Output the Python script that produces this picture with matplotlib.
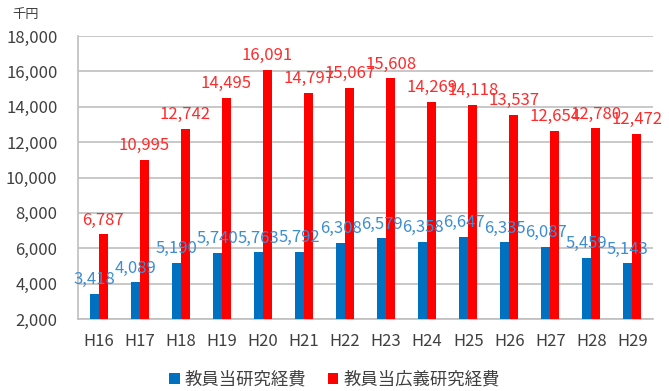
import matplotlib
matplotlib.use("Agg")
import matplotlib.pyplot as plt
import numpy as np

plt.rcParams['font.family'] = ['Noto Sans CJK JP', 'DejaVu Sans']

# Fiscal years (Heisei)
YEARS = ["H16", "H17", "H18", "H19", "H20", "H21", "H22",
         "H23", "H24", "H25", "H26", "H27", "H28", "H29"]
# Research expenses per faculty member (thousand yen)
RESEARCH = [3418, 4089, 5190, 5740, 5763, 5792, 6308,
            6579, 6358, 6647, 6335, 6087, 5459, 5143]
# Broad-sense research expenses per faculty member (thousand yen)
BROAD_RESEARCH = [6787, 10995, 12742, 14495, 16091, 14797, 15067,
                  15608, 14269, 14118, 13537, 12654, 12780, 12472]

BLUE = "#0070C0"
RED = "#FF0000"

fig = plt.figure(figsize=(6.69, 3.91), dpi=100)
ax = fig.add_axes([0.117, 0.184, 0.859, 0.724])

x = np.arange(len(YEARS))
w = 0.22
b1 = ax.bar(x - w / 2, RESEARCH, w, color=BLUE, label="教員当研究経費", zorder=3)
b2 = ax.bar(x + w / 2, BROAD_RESEARCH, w, color=RED, label="教員当広義研究経費", zorder=3)

for rect, v in zip(b1, RESEARCH):
    ax.annotate(f"{v:,}", (rect.get_x() + rect.get_width() / 2, v),
                xytext=(0, 4), textcoords="offset points",
                ha="center", va="bottom", fontsize=12, color="#3C8DD2")
for rect, v in zip(b2, BROAD_RESEARCH):
    ax.annotate(f"{v:,}", (rect.get_x() + rect.get_width() / 2, v),
                xytext=(0, 4), textcoords="offset points",
                ha="center", va="bottom", fontsize=12, color="#FF2A2A")

ax.set_ylim(2000, 18000)
ax.set_xlim(-0.5, len(YEARS) - 0.5)
ax.set_yticks(np.arange(2000, 18001, 2000))
ax.set_yticklabels([f"{t:,}" for t in range(2000, 18001, 2000)])
ax.set_xticks(x)
ax.set_xticklabels(YEARS)
ax.tick_params(axis="both", length=0, labelsize=12, colors="#404040")
ax.tick_params(axis="x", pad=10)
ax.tick_params(axis="y", pad=15)
ax.yaxis.grid(True, color="#BFBFBF", linewidth=1.2, zorder=0)

for s in ["top", "right"]:
    ax.spines[s].set_visible(False)
for s in ["left", "bottom"]:
    ax.spines[s].set_color("#BFBFBF")
    ax.spines[s].set_linewidth(1.2)

fig.text(0.018, 0.962, "千円", fontsize=9.5, color="#404040", ha="left", va="center")

fig.legend(handles=[b1, b2], loc="center", bbox_to_anchor=(0.5, 0.03),
           ncol=2, frameon=False, fontsize=12.5, handlelength=0.6,
           handleheight=0.6, handletextpad=0.3, columnspacing=1.2,
           labelcolor="#404040")

fig.savefig("out.png", dpi=100)
